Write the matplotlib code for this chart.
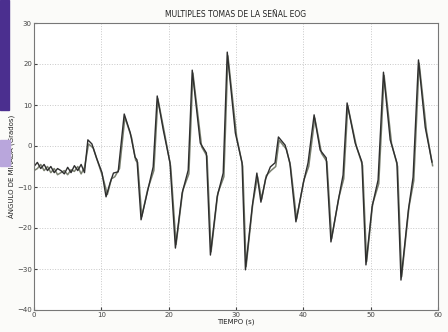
import numpy as np
import matplotlib.pyplot as plt
from matplotlib.patches import Rectangle

# time (s) and gaze angle (degrees)
t_a = [0.0, 0.5, 1.0, 1.5, 2.0, 2.5, 3.0, 3.5, 4.0, 4.5, 5.0, 5.5, 6.0, 6.5, 7.0, 7.5,
       8.0, 8.6, 9.3, 10.1, 10.7, 11.3, 11.8, 12.5, 13.4, 14.3, 15.0, 15.3, 15.9,
       16.8, 17.7, 18.3, 19.2, 20.2, 21.0, 22.0, 22.9, 23.5, 24.7, 25.6, 26.2,
       27.2, 28.1, 28.7, 29.9, 30.9, 31.4, 32.4, 33.1, 33.7, 34.4, 35.1, 35.8,
       36.3, 37.3, 38.0, 38.9, 40.0, 40.7, 41.6, 42.5, 43.4, 44.1, 45.2, 45.9,
       46.5, 47.7, 48.7, 49.3, 50.2, 51.1, 51.9, 52.9, 53.9, 54.5, 55.6, 56.3,
       57.1, 58.1, 59.1]
ang_a = [-5.0, -4.0, -5.5, -4.5, -6.0, -5.0, -6.5, -5.5, -6.0, -6.8, -5.2, -6.5, -4.8, -6.0, -4.5, -6.5,
         1.5, 0.5, -3.0, -6.5, -12.4, -9.0, -6.6, -6.3, 7.8, 3.2, -2.7, -3.4, -18.0,
         -11.5, -5.1, 12.2, 3.9, -4.1, -24.9, -11.5, -5.9, 18.5, 0.7, -1.7, -26.6,
         -12.4, -6.6, 22.9, 3.2, -4.1, -30.2, -14.9, -6.6, -13.7, -8.0, -5.1, -4.1,
         2.2, 0.2, -4.1, -18.5, -9.0, -4.1, 7.6, -1.0, -2.9, -23.4, -13.2, -7.1,
         10.5, 0.7, -3.9, -29.0, -14.9, -8.3, 18.0, 1.5, -4.1, -32.7, -15.6, -7.6,
         21.0, 4.6, -3.9]

t_b = [0.0, 0.5, 1.0, 1.5, 2.0, 2.5, 3.0, 3.5, 4.0, 4.5, 5.0, 5.5, 6.0, 6.5, 7.0, 7.5,
       8.1, 8.8, 9.5, 10.2, 10.9, 11.5, 12.0, 12.7, 13.5, 14.5, 15.1, 15.4, 16.0,
       16.9, 17.8, 18.4, 19.4, 20.3, 21.1, 22.1, 23.0, 23.6, 24.9, 25.7, 26.3,
       27.3, 28.2, 28.8, 30.1, 31.0, 31.5, 32.5, 33.2, 33.8, 34.5, 35.2, 35.9,
       36.4, 37.5, 38.1, 39.0, 40.1, 40.8, 41.7, 42.7, 43.5, 44.2, 45.3, 46.0,
       46.6, 47.9, 48.8, 49.4, 50.3, 51.2, 52.0, 53.1, 54.0, 54.6, 55.7, 56.4,
       57.2, 58.3, 59.2]
ang_b = [-6.0, -5.5, -4.5, -6.0, -5.0, -6.5, -5.5, -7.0, -6.5, -6.0, -7.0, -5.8, -6.2, -5.0, -6.8, -5.2,
         0.5, -0.5, -4.0, -7.5, -11.8, -8.0, -7.5, -5.5, 7.0, 2.0, -3.5, -4.0, -17.2,
         -10.5, -6.0, 11.5, 3.0, -5.0, -24.0, -10.8, -6.8, 17.8, -0.2, -2.5, -25.8,
         -11.5, -7.5, 22.0, 2.2, -5.0, -29.4, -14.0, -7.5, -13.0, -7.2, -6.0, -5.0,
         1.4, -0.8, -5.0, -17.8, -8.2, -5.0, 6.8, -1.8, -3.8, -22.6, -12.4, -8.0,
         9.8, -0.2, -4.8, -28.2, -14.1, -9.2, 17.2, 0.6, -5.0, -31.9, -14.8, -8.5,
         20.2, 3.6, -4.8]

fig = plt.figure(figsize=(4.48, 3.32), dpi=100)
fig.patch.set_facecolor('#fbfbf9')

# purple book-edge strip visible on the left of the scan
fig.patches.append(Rectangle((0, 1 - 110 / 332), 9 / 448, 110 / 332,
                             transform=fig.transFigure, color='#4b2f8f', zorder=0))
fig.patches.append(Rectangle((0, 1 - 166 / 332), 10 / 448, 26 / 332,
                             transform=fig.transFigure, color='#b9a6dc', zorder=0))

ax = fig.add_axes([34 / 448, 22 / 332, 404 / 448, 287 / 332])
ax.set_facecolor('white')
ax.plot(t_b, ang_b, color='#7a8070', lw=1.1)
ax.plot(t_a, ang_a, color='#2e2e2e', lw=1.0)

ax.set_xlim(0, 60)
ax.set_ylim(-40, 30)
ax.set_xticks(np.arange(0, 61, 10))
ax.set_yticks(np.arange(-40, 31, 10))
ax.grid(True, linestyle=':', color='#c8c8c8', lw=0.7)
ax.tick_params(labelsize=5, length=2, pad=1.5, colors='#444444', direction='in')
for s in ax.spines.values():
    s.set_color('#777777')
    s.set_linewidth(0.8)

ax.set_title('MULTIPLES TOMAS DE LA SEÑAL EOG', fontsize=5.5, pad=4, color='#222222')
ax.set_xlabel('TIEMPO (s)', fontsize=5, labelpad=0.5, color='#222222')
ax.set_ylabel('ÁNGULO DE MIRADA (Grados)', fontsize=5, labelpad=1, color='#222222')

fig.savefig('out.png', dpi=100, facecolor=fig.get_facecolor())
